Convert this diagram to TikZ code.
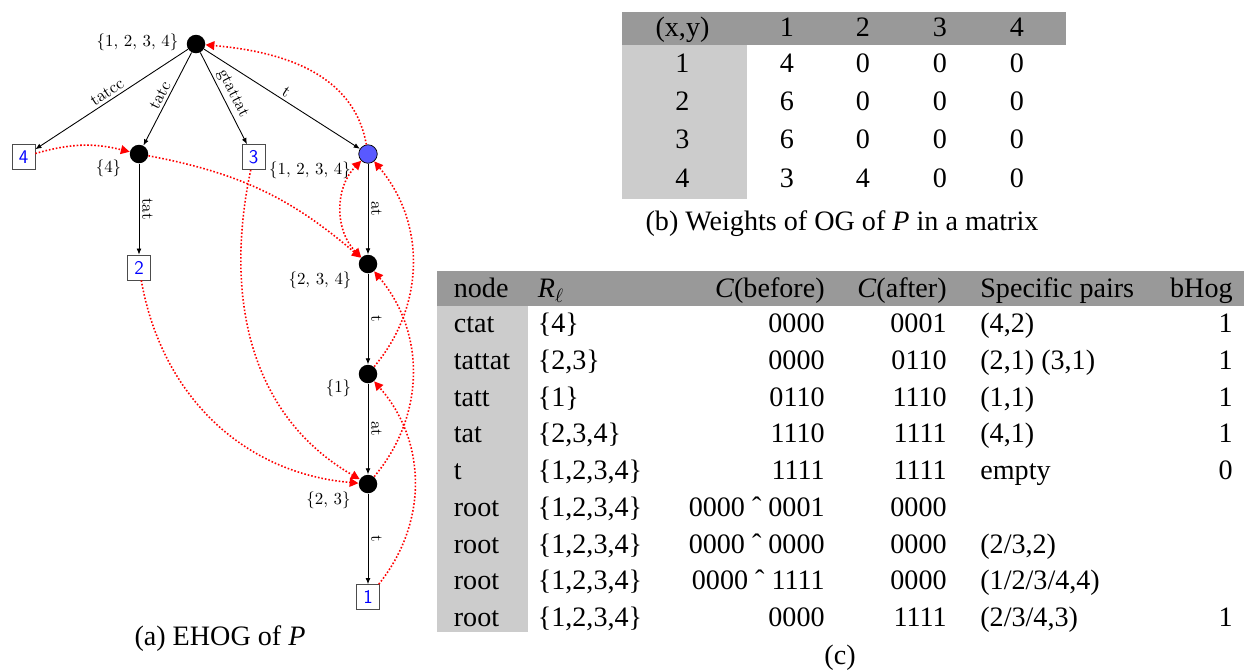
\documentclass[tikz,border=0pt]{standalone}
\usepackage{fontspec}
\setmainfont{Liberation Serif}
\usepackage{tikz}
\usetikzlibrary{positioning,arrows.meta}

\newcommand{\treefont}{\fontfamily{lmr}\fontsize{9.6}{11}\selectfont}
% one row of the OG matrix
\newcommand{\brow}[7]{%
  \node[cell, anchor=base] (b#1x) at (13.65,#2) {#3};
  \node[cell, anchor=base] (b#1a) at (15.74,#2) {#4};
  \node[cell, anchor=base] (b#1b) at (17.26,#2) {#5};
  \node[cell, anchor=base] (b#1c) at (18.80,#2) {#6};
  \node[cell, anchor=base] (b#1d) at (20.34,#2) {#7};
}
% one row of table (c)
\newcommand{\crow}[8]{%
  \node[cell, anchor=base west] (c#1n) at (9.07,#2) {#3};
  \node[cell, anchor=base west] (c#1r) at (10.75,#2) {#4};
  \node[cell, anchor=base east] (c#1b) at (16.50,#2) {#5};
  \node[cell, anchor=base east] (c#1a) at (18.94,#2) {#6};
  \node[cell, anchor=base west] (c#1p) at (19.60,#2) {#7};
  \node[cell, anchor=base east] (c#1h) at (24.66,#2) {#8};
}
\newcommand{\hatop}{\char"02C6}

\begin{document}
\begin{tikzpicture}[
  >={Triangle[length=5pt,width=5pt]},
  inner/.style={circle, fill=black, minimum size=0.37cm, inner sep=0pt},
  tnode/.style={circle, draw=black, fill=blue!65, minimum size=0.37cm, inner sep=0pt},
  leaf/.style={draw=black!70, fill=white, minimum width=0.46cm, minimum height=0.5cm,
    inner sep=0pt, text=blue, font=\sffamily\fontsize{11}{13}\selectfont},
  tedge/.style={-{Latex[length=3.5pt,width=2.8pt]}, line width=0.5pt},
  elabel/.style={sloped, above, inner sep=1.5pt, font=\treefont},
  setlabel/.style={font=\treefont},
  fail/.style={->, red, line width=0.9pt, dash pattern=on 0.9pt off 1.1pt},
  cell/.style={inner sep=0pt, font=\fontsize{16}{19}\selectfont},
]
  \useasboundingbox (0,0) rectangle (24.96,-13.38);

  % shading of the tables
  \fill[black!40] (12.44,-0.24) rectangle (21.32,-0.9);
  \fill[black!20] (12.44,-0.9) rectangle (14.94,-3.98);
  \fill[black!40] (8.74,-5.42) rectangle (24.88,-6.12);
  \fill[black!20] (8.74,-6.12) rectangle (10.56,-12.64);

  % EHOG
  \node[inner] (root) at (3.92,-0.88) {};
  \node[leaf] (l4) at (0.47,-3.14) {4};
  \node[inner] (n4) at (2.78,-3.08) {};
  \node[leaf] (l3) at (5.07,-3.14) {3};
  \node[tnode] (nt) at (7.36,-3.08) {};
  \node[leaf] (l2) at (2.78,-5.35) {2};
  \node[inner] (ntat) at (7.36,-5.28) {};
  \node[inner] (ntatt) at (7.36,-7.48) {};
  \node[inner] (ntattat) at (7.36,-9.68) {};
  \node[leaf] (l1) at (7.36,-11.94) {1};

  \draw[tedge] (root) -- node[elabel] {tatcc} (l4);
  \draw[tedge] (root) -- node[elabel] {tatc} (n4);
  \draw[tedge] (root) -- node[elabel] {gtattat} (l3);
  \draw[tedge] (root) -- node[elabel] {t} (nt);
  \draw[tedge] (n4) -- node[elabel] {tat} (l2);
  \draw[tedge] (nt) -- node[elabel] {at} (ntat);
  \draw[tedge] (ntat) -- node[elabel] {t} (ntatt);
  \draw[tedge] (ntatt) -- node[elabel] {at} (ntattat);
  \draw[tedge] (ntattat) -- node[elabel] {t} (l1);

  \node[setlabel] (rootset) at (2.75,-0.84) {\{1, 2, 3, 4\}};
  \node[setlabel] (n4set) at (2.17,-3.36) {\{4\}};
  \node[setlabel] (ntset) at (6.2,-3.4) {\{1, 2, 3, 4\}};
  \node[setlabel] (ntatset) at (6.4,-5.6) {\{2, 3, 4\}};
  \node[setlabel] (ntattset) at (6.77,-7.76) {\{1\}};
  \node[setlabel] (ntattatset) at (6.57,-10.0) {\{2, 3\}};

  % failure links
  \draw[fail] (nt) to[out=100,in=-5] (root);
  \draw[fail] (l4) to[bend left=15] (n4);
  \draw[fail] (n4) to[bend left=15] (ntat);
  \draw[fail] (l3) to[out=-102,in=150] (ntattat);
  \draw[fail] (l2) to[out=-80,in=175] (ntattat);
  \draw[fail,<->] (ntat) to[bend left=45] (nt);
  \draw[fail] (ntatt) to[bend right=40] (nt);
  \draw[fail] (ntattat) to[bend right=40] (ntat);
  \draw[fail] (l1) to[bend right=40] (ntatt);

  \node[cell] (capa) at (4.4,-12.78) {(a) EHOG of \textit{P}};

  % table (b)
  \brow{0}{-0.72}{(x,y)}{1}{2}{3}{4}
  \brow{1}{-1.45}{1}{4}{0}{0}{0}
  \brow{2}{-2.21}{2}{6}{0}{0}{0}
  \brow{3}{-2.97}{3}{6}{0}{0}{0}
  \brow{4}{-3.74}{4}{3}{4}{0}{0}
  \node[cell] (capb) at (16.84,-4.47) {(b) Weights of OG of \textit{P} in a matrix};

  % table (c)
  \crow{0}{-5.95}{node}{\textit{R}$_\ell$}{\textit{C}(before)}{\textit{C}(after)}{Specific pairs}{bHog}
  \crow{1}{-6.65}{ctat}{\{4\}}{0000}{0001}{(4,2)}{1}
  \crow{2}{-7.385}{tattat}{\{2,3\}}{0000}{0110}{(2,1) (3,1)}{1}
  \crow{3}{-8.12}{tatt}{\{1\}}{0110}{1110}{(1,1)}{1}
  \crow{4}{-8.855}{tat}{\{2,3,4\}}{1110}{1111}{(4,1)}{1}
  \crow{5}{-9.59}{t}{\{1,2,3,4\}}{1111}{1111}{empty}{0}
  \crow{6}{-10.325}{root}{\{1,2,3,4\}}{0000 \hatop\ 0001}{0000}{}{}
  \crow{7}{-11.06}{root}{\{1,2,3,4\}}{0000 \hatop\ 0000}{0000}{(2/3,2)}{}
  \crow{8}{-11.795}{root}{\{1,2,3,4\}}{0000 \hatop\ 1111}{0000}{(1/2/3/4,4)}{}
  \crow{9}{-12.53}{root}{\{1,2,3,4\}}{0000}{1111}{(2/3/4,3)}{1}
  \node[cell] (capc) at (16.8,-13.16) {(c)};
\end{tikzpicture}
\end{document}
